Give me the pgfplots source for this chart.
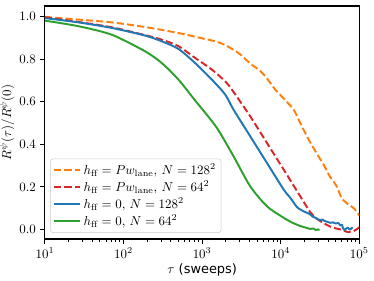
\documentclass[border=0pt]{standalone}
\usepackage{pgfplots}
\pgfplotsset{compat=1.18}
\usepackage{fontspec}
\newfontfamily\dejavu{DejaVu Sans}
\definecolor{tabblue}{HTML}{1F77B4}
\definecolor{taborange}{HTML}{FF7F0E}
\definecolor{tabgreen}{HTML}{2CA02C}
\definecolor{tabred}{HTML}{D62728}
\begin{document}
\begin{tikzpicture}
\begin{axis}[
  scale only axis,
  width=3.362in, height=2.492in,
  xmode=log, log basis x=10,
  xmin=10, xmax=100000,
  ymin=-0.045, ymax=1.05,
  ytick={0,0.2,0.4,0.6,0.8,1.0},
  yticklabel style={/pgf/number format/.cd,fixed,fixed zerofill,precision=1},
  tick align=outside, tick pos=left,
  major tick length=3.5pt, minor tick length=2pt,
  every tick/.style={black, line width=0.8pt},
  axis line style={line width=0.8pt},
  xlabel={$\tau$ {\dejavu (sweeps)}},
  ylabel={$R^{\psi}(\tau)/R^{\psi}(0)$},
  xlabel style={yshift=3pt},
  ylabel style={yshift=-3pt},
  legend style={at={(0.017,0.026)}, anchor=south west, draw=black!20, rounded corners=2pt,
    fill=white, fill opacity=0.8, text opacity=1, font=\normalsize,
    inner sep=2pt, row sep=-0.5pt},
  legend cell align=left,
  legend image code/.code={\draw[#1] (0pt,0pt) -- (20pt,0pt);},
  every axis plot/.append style={smooth, tension=0.45, line join=round},
]
\addplot[taborange, line width=1.5pt, dash pattern=on 5.55pt off 2.4pt] coordinates {
(10,0.999) (26.6,0.986) (70.6,0.973) (188,0.951) (500,0.923) (944,0.900) (1500,0.883)
(2000,0.865) (3000,0.825) (4070,0.780) (5480,0.745) (6670,0.710) (8510,0.657)
(10000,0.630) (14560,0.563) (17700,0.500) (22600,0.423) (30000,0.345) (35100,0.305)
(42000,0.250) (47000,0.225) (52000,0.200) (56000,0.170) (60000,0.145) (66000,0.130)
(72000,0.118) (78000,0.110) (84600,0.100) (92000,0.085) (100000,0.065)};
\addlegendentry{$h_{\mathrm{ff}}=Pw_{\mathrm{lane}}$, $N=128^2$}
\addplot[tabred, line width=1.5pt, dash pattern=on 5.55pt off 2.4pt] coordinates {
(10,0.997) (26.6,0.975) (70.6,0.950) (188,0.913) (306,0.892) (500,0.861) (813,0.806)
(1330,0.751) (1963,0.696) (2390,0.657) (4083,0.532) (6660,0.407) (10870,0.282)
(17700,0.156) (23800,0.080) (26200,0.064) (31800,0.039) (42700,0.013) (50000,0.005)
(57300,0.000) (64000,-0.006) (71600,-0.013) (78000,-0.010) (84600,-0.008) (92000,0.000)
(100000,0.010)};
\addlegendentry{$h_{\mathrm{ff}}=Pw_{\mathrm{lane}}$, $N=64^2$}
\addplot[tabblue, line width=1.5pt] coordinates {
(10,0.993) (26.6,0.973) (70.6,0.947) (188,0.911) (306,0.884) (500,0.848) (813,0.782)
(1330,0.704) (1963,0.634) (2506,0.563) (4083,0.438) (6660,0.313) (10870,0.188)
(13200,0.149) (16070,0.105) (17700,0.094) (19500,0.085) (21600,0.078) (23800,0.070)
(25500,0.060) (27500,0.055) (29500,0.048) (31800,0.044) (34000,0.046) (36000,0.040)
(39000,0.036) (42700,0.031) (46000,0.033) (50000,0.028) (54000,0.030) (57300,0.019)
(60000,0.022) (62000,0.006) (64800,-0.003) (68000,0.004) (71600,0.008) (75000,0.000)
(79000,0.003) (82000,0.010)};
\addlegendentry{$h_{\mathrm{ff}}=0$, $N=128^2$}
\addplot[tabgreen, line width=1.5pt] coordinates {
(10,0.981) (26.6,0.955) (70.6,0.915) (188,0.837) (306,0.782) (500,0.704) (813,0.606)
(944,0.577) (1540,0.477) (2506,0.344) (4083,0.203) (6660,0.109) (10870,0.055)
(14000,0.032) (17700,0.016) (21000,0.008) (23800,0.002) (25000,0.004) (26500,0.003)
(28000,-0.003) (29000,0.000) (30300,-0.002) (31000,0.001)};
\addlegendentry{$h_{\mathrm{ff}}=0$, $N=64^2$}
\end{axis}
\pgfresetboundingbox
\path[use as bounding box] ([xshift=-0.481in,yshift=-0.444in]current axis.south west) rectangle ([xshift=0.157in,yshift=0.064in]current axis.north east);
\end{tikzpicture}
\end{document}
